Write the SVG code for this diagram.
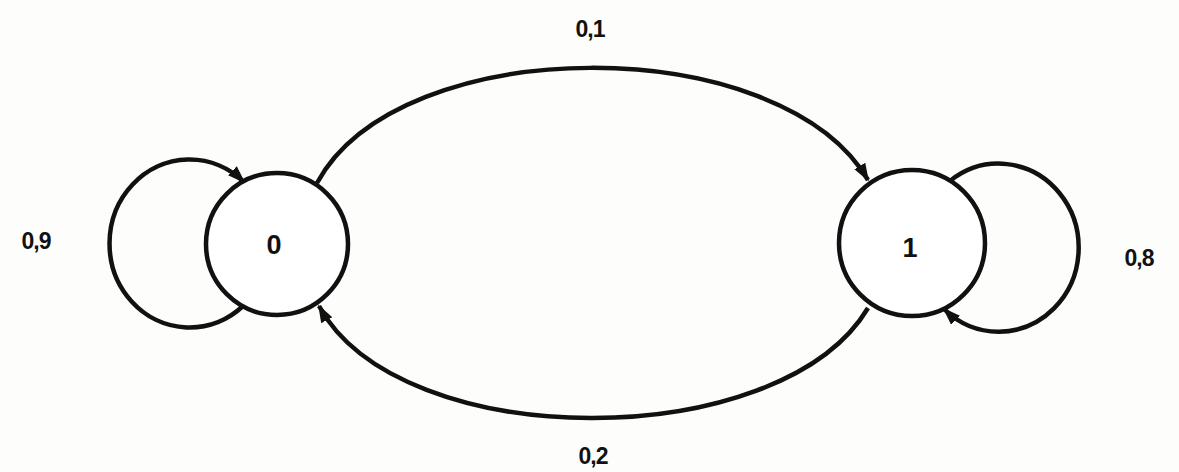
<svg xmlns="http://www.w3.org/2000/svg" width="1179" height="472" viewBox="0 0 1179 472">
<style>
.n{fill:#fff;stroke:#111;stroke-width:4.5}
.e{fill:none;stroke:#111;stroke-width:4.5}
.t{font-family:"Liberation Sans",Arial,sans-serif;font-weight:bold;fill:#111;text-anchor:middle}
.l{font-size:23px;letter-spacing:-1px}
.nl{font-size:27px}
</style>
<defs>
<marker id="a" viewBox="0 0 10 10" refX="9" refY="5" markerWidth="4" markerHeight="4" orient="auto" markerUnits="strokeWidth">
<path d="M0,1.5 L10,5 L0,8.5 z" fill="#111"/>
</marker>
</defs>
<rect width="1179" height="472" fill="#fdfdfb"/>
<g id="connectors">
<path class="e" d="M243,306 A80,84 0 1 1 244,182" marker-end="url(#a)"/>
<path class="e" d="M950,181 A80,84 0 1 1 944,309" marker-end="url(#a)"/>
<path class="e" d="M317,183 C400,30 780,30 868,180" marker-end="url(#a)"/>
<path class="e" d="M868,308 C780,455 400,455 319,306" marker-end="url(#a)"/>
</g>
<g id="node0">
<circle class="n" cx="277" cy="244" r="71"/>
<text class="t nl" x="274" y="254">0</text>
</g>
<g id="node1">
<circle class="n" cx="912" cy="243" r="73"/>
<text class="t nl" x="910" y="257">1</text>
</g>
<g id="labels">
<text class="t l" x="590" y="37">0,1</text>
<text class="t l" x="593" y="464">0,2</text>
<text class="t l" x="36" y="249">0,9</text>
<text class="t l" x="1139" y="266">0,8</text>
</g>
</svg>
